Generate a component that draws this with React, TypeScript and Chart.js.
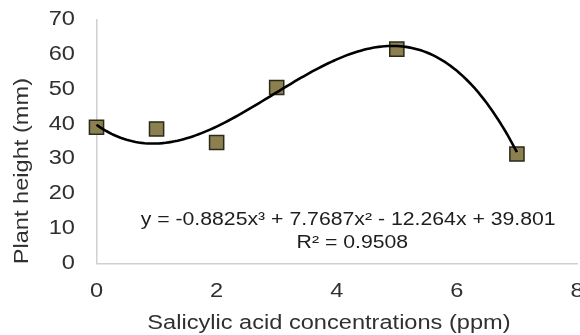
import React, { useEffect, useRef } from "react";
import { Chart, registerables } from "chart.js";

Chart.register(...registerables);

// ---- data ----
const concentrations = [0, 1, 2, 3, 5, 7];
const plantHeights = [39.1, 38.6, 34.7, 50.5, 61.5, 31.4];
// cubic trendline coefficients c0 + c1 x + c2 x^2 + c3 x^3 (as displayed)
const trendCoefficients = [39.801, -12.264, 7.7687, -0.8825];
const trendRange = [0, 7];
const equationLines = ["y = -0.8825x³ + 7.7687x² - 12.264x + 39.801", "R² = 0.9508"];
const xTickValues = [0, 2, 4, 6, 8];
const yTickValues = [0, 10, 20, 30, 40, 50, 60, 70];
const xTitle = "Salicylic acid concentrations (ppm)";
const yTitle = "Plant height (mm)";

const FONT = "'Liberation Sans', Arial, sans-serif";
const TEXT = "#303030";
const SX = 1.18; // the reference text is drawn wide

function trendPoints() {
  const pts: { x: number; y: number }[] = [];
  const steps = 140;
  for (let i = 0; i <= steps; i++) {
    const x = trendRange[0] + ((trendRange[1] - trendRange[0]) * i) / steps;
    let y = 0;
    for (let k = 0; k < trendCoefficients.length; k++) y += trendCoefficients[k] * Math.pow(x, k);
    pts.push({ x, y });
  }
  return pts;
}

function wideText(ctx: CanvasRenderingContext2D, text: string, x: number, y: number, align: CanvasTextAlign, rot = 0) {
  ctx.save();
  ctx.translate(x, y);
  if (rot) ctx.rotate(rot);
  ctx.scale(SX, 1);
  ctx.textAlign = align;
  ctx.textBaseline = "middle";
  ctx.fillText(text, 0, 0);
  ctx.restore();
}

const textPlugin = {
  id: "wideText",
  afterDraw(chart: any) {
    const { ctx, scales, chartArea } = chart;
    const xs = scales.x;
    const ys = scales.y;
    ctx.save();
    ctx.fillStyle = TEXT;
    ctx.font = `20px ${FONT}`;
    // tick labels
    yTickValues.forEach((v) => wideText(ctx, String(v), chartArea.left - 21.5, ys.getPixelForValue(v), "right"));
    xTickValues.forEach((v) => wideText(ctx, String(v), xs.getPixelForValue(v), chartArea.bottom + 27.5, "center"));
    // axis titles
    wideText(ctx, xTitle, xs.getPixelForValue(3.87), chart.height - 12, "center");
    wideText(ctx, yTitle, 22, ys.getPixelForValue(26.5), "center", -Math.PI / 2);
    // regression equation
    ctx.fillStyle = "#1e1e1e";
    ctx.font = `18px ${FONT}`;
    wideText(ctx, equationLines[0], xs.getPixelForValue(4.19), ys.getPixelForValue(12.5), "center");
    wideText(ctx, equationLines[1], xs.getPixelForValue(4.26), ys.getPixelForValue(5.9), "center");
    ctx.restore();
  },
};

export default function App() {
  const ref = useRef<HTMLCanvasElement>(null);
  useEffect(() => {
    if (!ref.current) return;
    const chart = new Chart(ref.current, {
      type: "scatter",
      data: {
        datasets: [
          {
            type: "line",
            data: trendPoints(),
            borderColor: "#000000",
            borderWidth: 2.6,
            pointRadius: 0,
            tension: 0,
            fill: false,
            clip: false,
            order: 0,
          } as any,
          {
            type: "scatter",
            data: concentrations.map((x, i) => ({ x, y: plantHeights[i] })),
            pointStyle: "rect",
            pointRadius: 10,
            backgroundColor: "#8c804e",
            borderColor: "#2a2a1e",
            borderWidth: 1.5,
            clip: false,
            order: 1,
          } as any,
        ],
      },
      options: {
        animation: false,
        responsive: false,
        events: [],
        layout: { autoPadding: false, padding: { left: 0, right: 23, top: 19.5, bottom: 0 } },
        plugins: { legend: { display: false }, tooltip: { enabled: false } },
        scales: {
          x: {
            type: "linear",
            min: 0,
            max: 8,
            afterBuildTicks: (axis: any) => {
              axis.ticks = xTickValues.map((v) => ({ value: v }));
            },
            afterFit: (axis: any) => {
              axis.height = 71.5;
            },
            grid: { display: false, drawTicks: false },
            border: { display: true, color: "#d0d0d0", width: 1.5 },
            ticks: { display: false },
            title: { display: false },
          },
          y: {
            type: "linear",
            min: 0,
            max: 70,
            afterBuildTicks: (axis: any) => {
              axis.ticks = yTickValues.map((v) => ({ value: v }));
            },
            afterFit: (axis: any) => {
              axis.width = 96.5;
            },
            grid: { display: false, drawTicks: false },
            border: { display: true, color: "#d0d0d0", width: 1.5 },
            ticks: { display: false },
            title: { display: false },
          },
        },
      },
      plugins: [textPlugin],
    });
    return () => chart.destroy();
  }, []);

  return (
    <div style={{ position: "fixed", left: 0, top: 0, width: 580, height: 335, overflow: "hidden", background: "#fff" }}>
      <canvas ref={ref} width={600} height={335} style={{ display: "block" }} />
    </div>
  );
}
